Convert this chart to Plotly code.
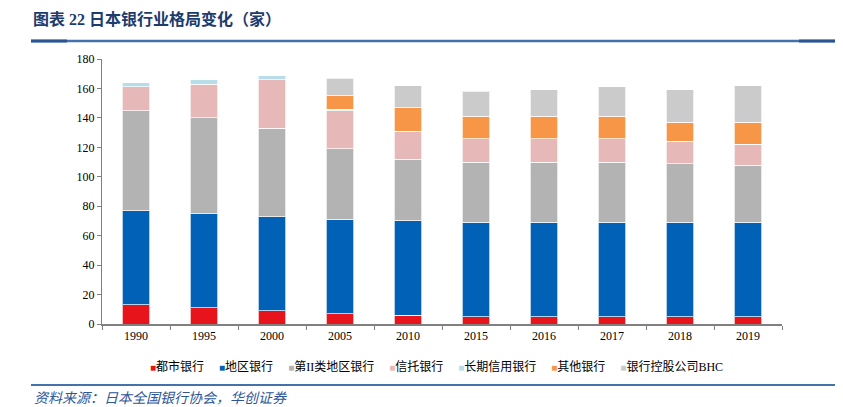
import plotly.graph_objects as go

years = ["1990", "1995", "2000", "2005", "2010", "2015", "2016", "2017", "2018", "2019"]
series_names = ["都市银行", "地区银行", "第II类地区银行", "信托银行", "长期信用银行", "其他银行", "银行控股公司BHC"]
city_banks = [13, 11, 9, 7, 6, 5, 5, 5, 5, 5]
regional_banks = [64, 64, 64, 64, 64, 64, 64, 64, 64, 64]
second_regional = [68, 65, 60, 48, 42, 41, 41, 41, 40, 39]
trust_banks = [16, 23, 33, 26, 19, 16, 16, 16, 15, 14]
long_term_credit = [3, 3, 3, 1, 0, 0, 0, 0, 0, 0]
other_banks = [0, 0, 0, 9, 16, 15, 15, 15, 13, 15]
bhc = [0, 0, 0, 12, 15, 17, 18, 20, 22, 25]
colors = ["#E8141C", "#0061B6", "#B3B3B3", "#E6B8B8", "#B7DDE8", "#F79646", "#CBCBCB"]

values = [city_banks, regional_banks, second_regional, trust_banks, long_term_credit, other_banks, bhc]

OFF = 8  # page body margin
W, H = 843 - OFF, 407 - OFF
L, R, T, B = 102 - OFF, 782 - OFF, 59 - OFF, 324 - OFF

def px(x):
    return (x - OFF - L) / (R - L)

def py(y):
    return (B - (y - OFF)) / (B - T)

FONT = "Liberation Serif, Times New Roman, Noto Sans CJK SC, serif"

fig = go.Figure()
for name, vals, c in zip(series_names, values, colors):
    fig.add_trace(go.Bar(
        x=years, y=vals, name=name, showlegend=False,
        marker=dict(color=c, line=dict(color="rgba(255,255,255,0.7)", width=1)),
    ))

fig.update_layout(
    barmode="stack",
    bargap=0.6,
    width=W, height=H,
    margin=dict(l=L, r=W - R, t=T, b=H - B),
    plot_bgcolor="white", paper_bgcolor="white",
    font=dict(family=FONT, size=12, color="#000000"),
    xaxis=dict(
        type="category", showline=True, linecolor="#808080", linewidth=1.5,
        ticks="outside", tickson="boundaries", ticklen=4, tickcolor="#808080",
        tickfont=dict(family=FONT, size=12, color="#000"),
        showgrid=False, zeroline=False,
    ),
    yaxis=dict(
        range=[0, 180], dtick=20, showline=True, linecolor="#808080", linewidth=1,
        ticks="outside", ticklen=4, tickcolor="#808080",
        tickfont=dict(family=FONT, size=12, color="#000"),
        showgrid=False, zeroline=False,
    ),
)

# Title
fig.add_annotation(
    text="<b>图表 22 日本银行业格局变化（家）</b>",
    xref="paper", yref="paper", x=px(31), y=py(19), xanchor="left", yanchor="middle",
    showarrow=False, font=dict(family=FONT, size=16, color="#1C3C6E"),
)
# Title rule
fig.add_shape(type="line", xref="paper", yref="paper", x0=px(31), x1=px(836), y0=py(41), y1=py(41),
              line=dict(color="#4472AE", width=2.5))
fig.add_shape(type="line", xref="paper", yref="paper", x0=px(31), x1=px(67), y0=py(41), y1=py(41),
              line=dict(color="#2A5592", width=3))
fig.add_shape(type="line", xref="paper", yref="paper", x0=px(799), x1=px(836), y0=py(41), y1=py(41),
              line=dict(color="#2A5592", width=3))

# Legend (text-based, built from series names and colours)
parts = []
for name, c in zip(series_names, colors):
    parts.append(f"<span style='color:{c};font-size:10px'>■</span>{name}")
legend_text = "\u00a0\u00a0\u00a0\u00a0\u00a0".join(parts)
fig.add_annotation(
    text=legend_text, xref="paper", yref="paper", x=px(436), y=py(366),
    xanchor="center", yanchor="middle", showarrow=False,
    font=dict(family=FONT, size=12, color="#000"),
)

# Footer rule and source
fig.add_shape(type="line", xref="paper", yref="paper", x0=px(31), x1=px(836), y0=py(385), y1=py(385),
              line=dict(color="#4472AE", width=2))
fig.add_annotation(
    text="<i>资料来源：日本全国银行协会，华创证券</i>",
    xref="paper", yref="paper", x=px(32), y=py(398), xanchor="left", yanchor="middle",
    showarrow=False, font=dict(family=FONT, size=14, color="#2F5597"),
)

fig.write_html("out.html")
